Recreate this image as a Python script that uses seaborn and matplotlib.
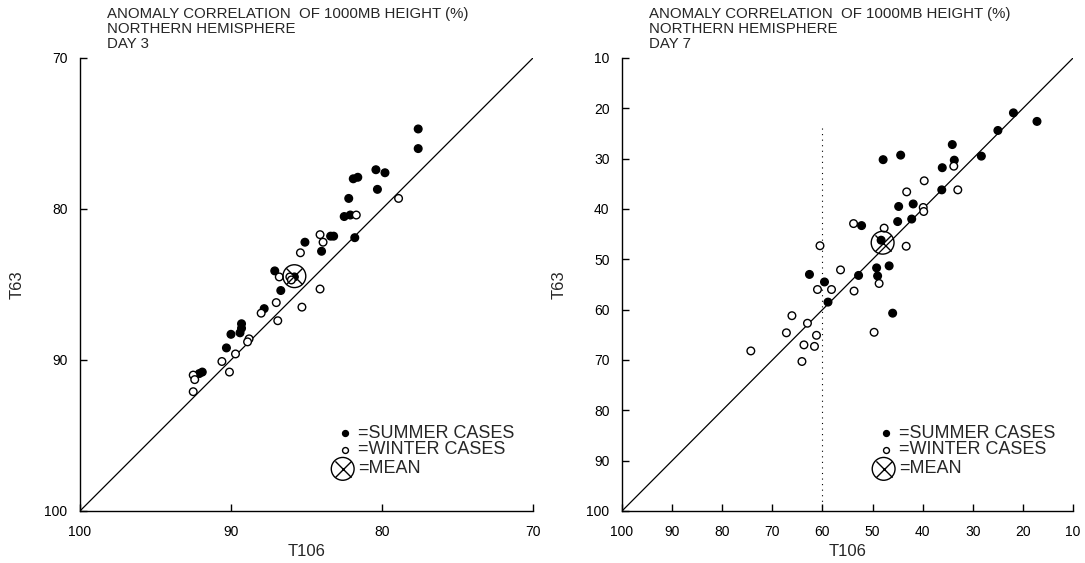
import numpy as np
import pandas as pd
import seaborn as sns
import matplotlib.pyplot as plt

# Day 3 values (T106, T63)
day3_summer_t106 = [77.6, 77.6, 80.4, 79.8, 81.9, 81.6, 80.3, 82.2, 82.5, 82.1, 83.4, 83.2, 81.8,
                    85.1, 84.0, 87.1, 85.8, 86.7, 87.8, 89.3, 89.3, 89.4, 90.0, 90.3, 91.9, 92.1]
day3_summer_t63 = [74.7, 76.0, 77.4, 77.6, 78.0, 77.9, 78.7, 79.3, 80.5, 80.4, 81.8, 81.8, 81.9,
                   82.2, 82.8, 84.1, 84.5, 85.4, 86.6, 87.6, 87.9, 88.2, 88.3, 89.2, 90.8, 90.9]
day3_winter_t106 = [78.9, 81.7, 84.1, 83.9, 85.4, 86.8, 86.1, 86.0, 84.1, 87.0, 85.3, 88.0, 86.9,
                    88.8, 88.9, 89.7, 90.6, 90.1, 92.5, 92.4, 92.5]
day3_winter_t63 = [79.3, 80.4, 81.7, 82.2, 82.9, 84.5, 84.5, 84.7, 85.3, 86.2, 86.5, 86.9, 87.4,
                   88.6, 88.8, 89.6, 90.1, 90.8, 91.0, 91.3, 92.1]
day3_mean = (85.8, 84.45)

# Day 7 values (T106, T63)
day7_summer_t106 = [21.9, 17.2, 25.0, 34.1, 47.9, 44.4, 28.3, 33.7, 36.1, 36.2, 41.9, 44.8, 42.2,
                    45.0, 52.2, 48.3, 52.8, 49.2, 49.0, 46.7, 62.6, 59.6, 58.9, 46.0]
day7_summer_t63 = [20.9, 22.6, 24.4, 27.2, 30.2, 29.3, 29.5, 30.3, 31.8, 36.2, 39.0, 39.5, 42.0,
                   42.5, 43.3, 46.2, 53.2, 51.7, 53.3, 51.3, 53.0, 54.5, 58.5, 60.7]
day7_winter_t106 = [33.8, 39.7, 33.0, 43.2, 39.9, 39.8, 53.8, 47.7, 43.3, 60.5, 56.4, 61.0, 58.2,
                    53.7, 48.7, 66.1, 63.0, 67.2, 61.2, 63.7, 61.6, 74.3, 64.1, 49.7]
day7_winter_t63 = [31.5, 34.4, 36.2, 36.6, 39.7, 40.5, 42.9, 43.8, 47.4, 47.3, 52.1, 56.0, 56.0,
                   56.3, 54.8, 61.2, 62.7, 64.6, 65.1, 67.0, 67.3, 68.2, 70.3, 64.5]
day7_mean = (48.0, 46.7)

day3_ticks = [100, 90, 80, 70]
day7_ticks = [100, 90, 80, 70, 60, 50, 40, 30, 20, 10]

title_lines = "ANOMALY CORRELATION  OF 1000MB HEIGHT (%)\nNORTHERN HEMISPHERE\n"


def make_df(st, sy, wt, wy):
    return pd.DataFrame({
        'T106': list(st) + list(wt),
        'T63': list(sy) + list(wy),
        'season': ['SUMMER'] * len(st) + ['WINTER'] * len(wt),
    })


sns.set_style('ticks')
plt.rcParams['font.family'] = ['Liberation Sans', 'DejaVu Sans']

fig = plt.figure(figsize=(10.85, 5.63), dpi=100)
ax1 = fig.add_axes([0.0737, 0.0924, 0.4175, 0.8046])
ax2 = fig.add_axes([0.5733, 0.0924, 0.4157, 0.8046])

panels = [
    (ax1, make_df(day3_summer_t106, day3_summer_t63, day3_winter_t106, day3_winter_t63),
     day3_mean, day3_ticks, 'DAY 3'),
    (ax2, make_df(day7_summer_t106, day7_summer_t63, day7_winter_t106, day7_winter_t63),
     day7_mean, day7_ticks, 'DAY 7'),
]

for ax, df, mean, ticks, day in panels:
    lo, hi = min(ticks), max(ticks)
    ax.plot([hi, lo], [hi, lo], color='black', lw=0.9, zorder=1)
    if day == 'DAY 7':
        ax.vlines(60, 24, 100, color='black', lw=0.8, linestyles=(0, (1, 4)), zorder=1)
    sns.scatterplot(data=df, x='T106', y='T63', hue='season',
                    palette={'SUMMER': 'black', 'WINTER': 'white'},
                    edgecolor='black', linewidth=1.0, s=30, legend=False, ax=ax, zorder=3)
    ax.scatter([mean[0]], [mean[1]], marker='o', s=270, facecolor='none',
               edgecolor='black', lw=1.0, zorder=4)
    ax.scatter([mean[0]], [mean[1]], marker='x', s=136, color='black', lw=1.0, zorder=4)

    ax.set_xlim(hi, lo)
    ax.set_ylim(hi, lo)
    ax.set_xticks(ticks)
    ax.set_yticks(ticks)
    ax.tick_params(direction='in', length=5, width=1, labelsize=10, colors='black')
    ax.tick_params(axis='x', pad=10)
    ax.tick_params(axis='y', pad=9)
    for s in ['top', 'right']:
        ax.spines[s].set_visible(False)
    for s in ['left', 'bottom']:
        ax.spines[s].set_linewidth(1.0)
        ax.spines[s].set_color('black')
    ax.set_xlabel('T106', fontsize=12, labelpad=4)
    ax.set_ylabel('T63', fontsize=12, labelpad=14)

    ax.text(0.06, 1.112, title_lines + day, transform=ax.transAxes, fontsize=10.8,
            va='top', ha='left', linespacing=1.08)

    # hand-drawn key
    mx, tx = 0.585, 0.614
    ax.scatter([mx], [0.172], transform=ax.transAxes, marker='o', s=18,
               color='black', clip_on=False, zorder=5)
    ax.scatter([mx], [0.135], transform=ax.transAxes, marker='o', s=18,
               facecolor='white', edgecolor='black', lw=1.0, clip_on=False, zorder=5)
    ax.scatter([mx - 0.005], [0.093], transform=ax.transAxes, marker='o', s=270,
               facecolor='none', edgecolor='black', lw=1.0, clip_on=False, zorder=5)
    ax.scatter([mx - 0.005], [0.093], transform=ax.transAxes, marker='x', s=136,
               color='black', lw=1.0, clip_on=False, zorder=5)
    for yy, label in [(0.172, '=SUMMER CASES'), (0.135, '=WINTER CASES'), (0.093, '=MEAN')]:
        ax.text(tx, yy, label, transform=ax.transAxes, fontsize=13, va='center', ha='left')

fig.savefig('out.png', dpi=100)
